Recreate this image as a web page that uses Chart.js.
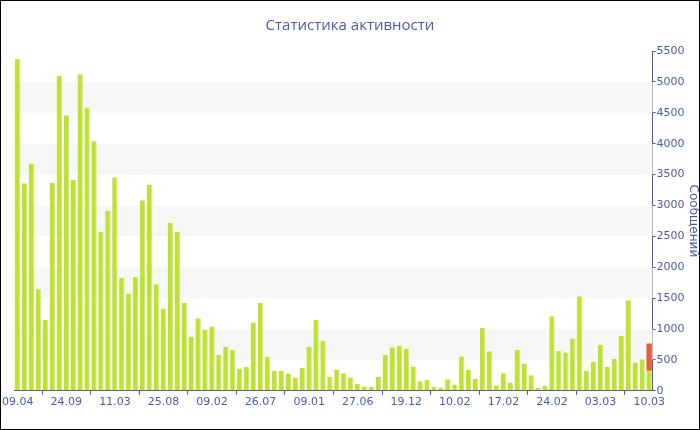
<!DOCTYPE html>
<html>
<head>
<meta charset="utf-8">
<script src="https://cdn.jsdelivr.net/npm/chart.js@4"></script>
<style>
  body { margin: 0; background: #fff; }
  .wrap { width: 700px; height: 430px; box-sizing: border-box; border: 1px solid #000; }
</style>
</head>
<body>
<div class="wrap"><canvas id="myChart"></canvas></div>
<script>
// labels shown under the x axis (one every 7 bars)
let tickLabels = ['09.04', '24.09', '11.03', '25.08', '09.02', '26.07', '09.01',
    '27.06', '19.12', '10.02', '17.02', '24.02', '03.03', '10.03'];

// messages per bar (green part)
let messages = [
    5370, 3360, 3680, 1645, 1145, 3365, 5100, 4460, 3415, 5125,
    4585, 4040, 2575, 2910, 3455, 1830, 1570, 1840, 3085, 3335,
    1725, 1330, 2720, 2575, 1425, 875, 1175, 990, 1040, 580,
    710, 665, 360, 390, 1105, 1425, 555, 325, 325, 280,
    210, 375, 710, 1145, 805, 225, 345, 285, 215, 110,
    65, 65, 225, 580, 705, 730, 675, 395, 155, 180,
    70, 50, 185, 100, 555, 335, 195, 1015, 640, 85,
    285, 135, 660, 440, 250, 50, 80, 1205, 645, 620,
    845, 1530, 325, 470, 745, 385, 520, 885, 1465, 460,
    510, 325
];
// red part, only on the current (last) bar
let current = new Array(91).fill(0).concat([440]);

let labels = messages.map((m, i) => i % 7 ? '' : tickLabels[i / 7]);

let blue = '#4a5ca3';

// grey bands every other 500 step
const bandsPlugin = {
    id: 'bands',
    beforeDatasetsDraw(chart) {
        let ctx = chart.ctx, area = chart.chartArea, y = chart.scales.y;
        ctx.save();
        ctx.fillStyle = '#f7f7f7';
        for (let v = 500; v < 5500; v += 1000) {
            let top = y.getPixelForValue(v + 500);
            let bottom = y.getPixelForValue(v);
            ctx.fillRect(area.left, top, area.right - area.left, bottom - top);
        }
        ctx.restore();
    }
};

let ctx = document.getElementById('myChart').getContext('2d');
let myChart = new Chart(ctx, {
    type: 'bar',
    data: {
        labels: labels,
        datasets: [{
            data: messages,
            backgroundColor: '#bde232',
            borderColor: '#cfe978',
            borderWidth: {left: 0, right: 1, top: 0, bottom: 0},
            borderSkipped: false,
            barPercentage: 0.78,
            categoryPercentage: 1
        }, {
            data: current,
            backgroundColor: '#e5603a',
            barPercentage: 0.78,
            categoryPercentage: 1
        }]
    },
    options: {
        responsive: true,
        maintainAspectRatio: false,
        animation: false,
        layout: {padding: {left: -5, right: -5, top: 0, bottom: 19}},
        plugins: {
            legend: {display: false},
            tooltip: {enabled: false},
            title: {
                display: true,
                text: 'Статистика активности',
                color: blue,
                font: {family: 'Open Sans', size: 15, weight: 'normal'},
                padding: {top: 16, bottom: 16}
            }
        },
        scales: {
            x: {
                stacked: true,
                grid: {display: true, drawOnChartArea: false, color: blue, tickLength: 4},
                border: {color: blue},
                ticks: {
                    autoSkip: false,
                    maxRotation: 0,
                    color: blue,
                    padding: 1,
                    font: {family: 'DejaVu Sans', size: 11},
                    callback: function(v, i) { return labels[i] ? labels[i] : null; }
                }
            },
            y: {
                stacked: true,
                position: 'right',
                min: 0,
                max: 5500,
                grid: {drawOnChartArea: false, color: blue, tickLength: 3},
                border: {color: blue},
                ticks: {
                    stepSize: 250,
                    color: blue,
                    padding: 1,
                    font: {family: 'DejaVu Sans', size: 11},
                    callback: function(v) { return v % 500 === 0 ? v : ''; }
                },
                title: {
                    display: true,
                    text: 'Сообщений',
                    color: blue,
                    font: {family: 'DejaVu Sans', size: 12},
                    padding: {top: 4, bottom: 0}
                }
            }
        }
    },
    plugins: [bandsPlugin]
});
</script>
</body>
</html>
